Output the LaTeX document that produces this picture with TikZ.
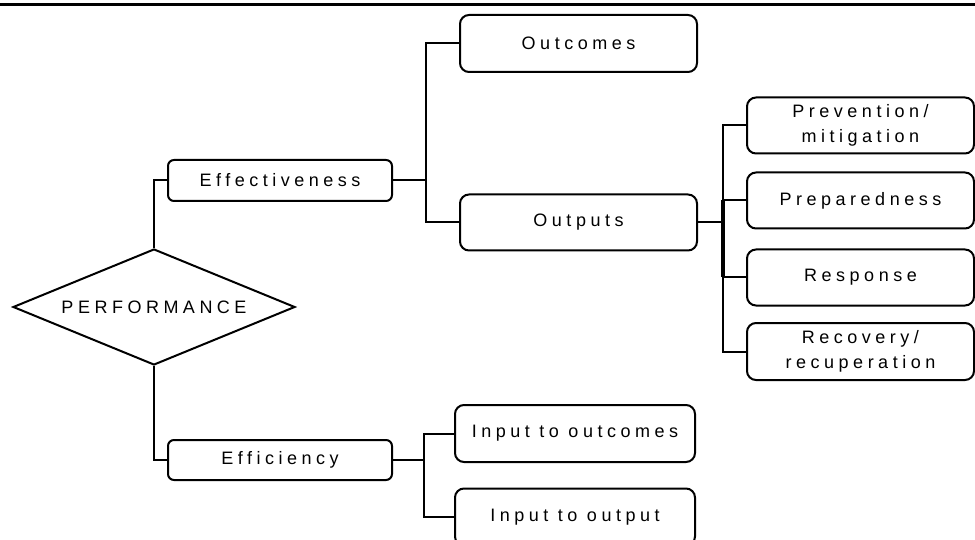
\documentclass[tikz,border=0pt]{standalone}
\usepackage{fontspec}
\setmainfont{Liberation Sans}[LetterSpace=25]
\usetikzlibrary{positioning, shapes.geometric}

\begin{document}
\begin{tikzpicture}[x=1pt, y=1pt, on grid, line width=2pt,
    every node/.style={font=\fontsize{18}{25}\selectfont, align=center, inner sep=0pt},
    sbox/.style={draw, rounded corners=6pt, minimum width=224pt, minimum height=41pt},
    bbox/.style={draw, rounded corners=9pt, minimum width=237pt, minimum height=56pt},
    cbox/.style={bbox, minimum width=227pt}]
   \useasboundingbox (0,0) rectangle (975,-540);
   \draw[line width=3pt] (0,-5) -- (975,-5);

   \node[diamond, draw, aspect=2.4, minimum width=282pt, minimum height=116pt] (perf) at (154,-307) {PERFORMANCE};
   \node[sbox] (eff) [above right=126.5pt and 126pt of perf] {Effectiveness};
   \node[sbox, minimum height=40pt] (effic) [below right=153pt and 126pt of perf] {Efficiency};

   \node[bbox, minimum height=57pt] (outc) [above right=137pt and 298.5pt of eff] {Outcomes};
   \node[bbox] (outp) [below right=42pt and 298.5pt of eff] {Outputs};

   \node[cbox] (prev) [above right=97pt and 282pt of outp] {Prevention/\\mitigation};
   \node[cbox] (prep) [below=75pt of prev] {Preparedness};
   \node[cbox] (resp) [below=77pt of prep] {Response};
   \node[cbox, minimum height=57pt] (recov) [below=74pt of resp] {Recovery/\\recuperation};

   \node[bbox, minimum width=240pt, minimum height=57pt] (in1) [above right=26.5pt and 295pt of effic] {Input to outcomes};
   \node[bbox, minimum width=240pt, minimum height=57pt] (in2) [below=83.5pt of in1] {Input to output};

   \draw (perf.north) |- (eff.west);
   \draw (perf.south) |- (effic.west);

   \draw (eff.east) -- ++(33,0) coordinate (j1);
   \draw (outc.west) -| (j1);
   \draw (outp.west) -| (j1);

   \draw (effic.east) -- ++(31,0) coordinate (j2);
   \draw (in1.west) -| (j2);
   \draw (in2.west) -| (j2);

   \draw (outp.east) -- ++(25,0) coordinate (j3);
   \draw (prev.west) -| (j3);
   \draw (prep.west) -| (j3);
   \draw (resp.west) -| (j3);
   \draw (recov.west) -| (j3);
   \draw[line width=3.5pt] (j3 |- prep.west) -- (j3 |- resp.west);
\end{tikzpicture}
\end{document}
